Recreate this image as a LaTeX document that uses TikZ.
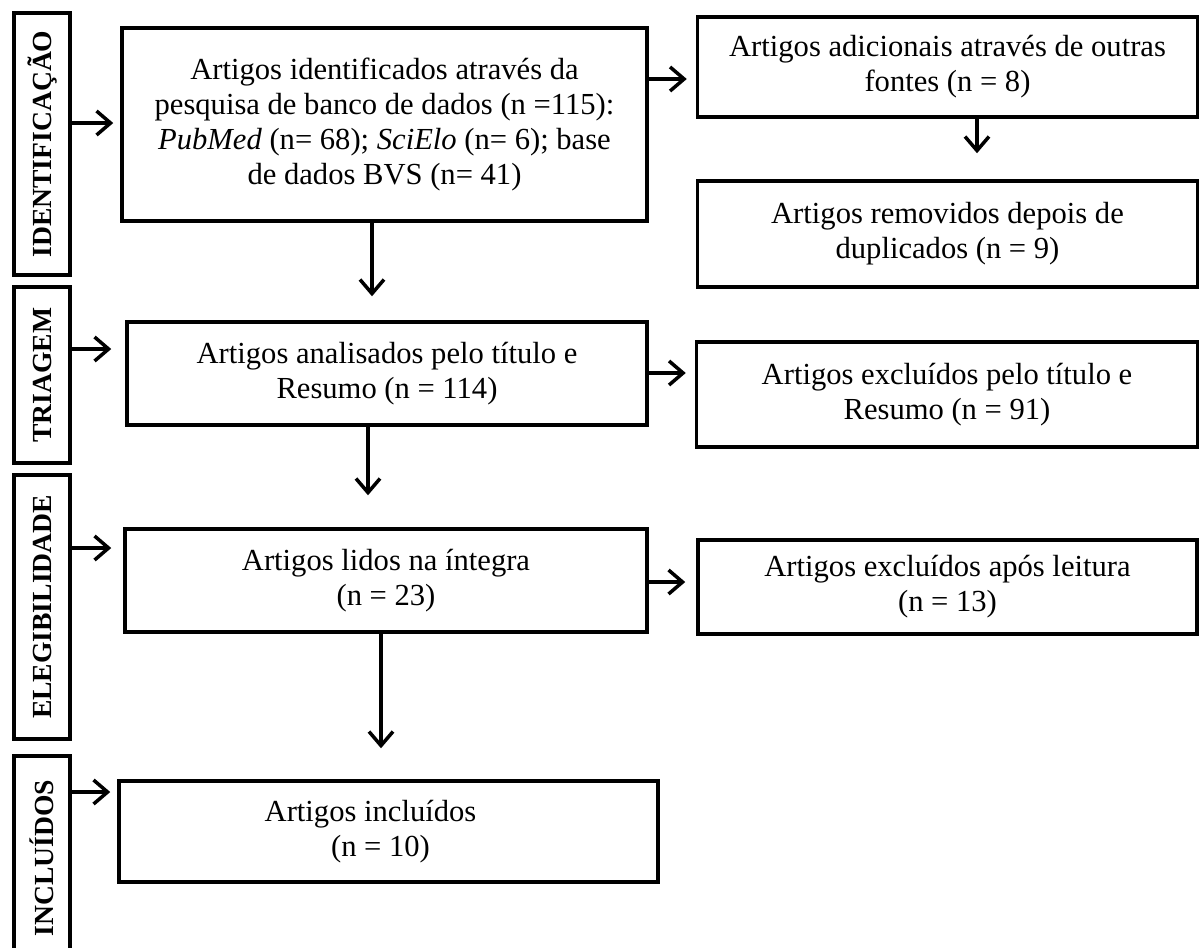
\documentclass[tikz,border=0pt]{standalone}
\usepackage{fontspec}
\setmainfont{Liberation Serif}
\usetikzlibrary{arrows.meta}
\begin{document}
\begin{tikzpicture}[x=0.5pt,y=-0.5pt,
  box/.style={draw, line width=1.75pt, align=center, inner sep=0pt,
    font=\fontsize{15.3}{17.5}\selectfont},
  lab/.style={draw, line width=1.75pt, inner sep=0pt, minimum width=28pt,
    font=\fontsize{13.8}{15}\selectfont\bfseries},
  arr/.style={line width=1.75pt, -{Straight Barb[length=7pt,width=12pt]}}]
\useasboundingbox (0,0) rectangle (1200,948);

% stage labels
\node[lab, minimum height=131pt] (lab1) at (42,144) {\rotatebox{90}{IDENTIFICAÇÃO}};
\node[lab, minimum height=88pt]  (lab2) at (42,375) {\rotatebox{90}{TRIAGEM}};
\node[lab, minimum height=132pt] (lab3) at (42,607) {\rotatebox{90}{ELEGIBILIDADE}};
\node[lab, minimum height=102pt] (lab4) at (42,858) {\rotatebox{90}{INCLUÍDOS}};

% main boxes
\node[box, minimum width=262.5pt, minimum height=96.5pt] (b1) at (384.5,124.5)
  {Artigos identificados através da\\ pesquisa de banco de dados (n =115):\\
   \textit{PubMed} (n= 68); \textit{SciElo} (n= 6); base\\ de dados BVS (n= 41)};
\node[box, minimum width=250pt, minimum height=50pt] (bA) at (947.5,67)
  {Artigos adicionais através de outras\\ fontes (n = 8)};
\node[box, minimum width=250pt, minimum height=53pt] (bB) at (947.5,234)
  {Artigos removidos depois de\\ duplicados (n = 9)};
\node[box, minimum width=260pt, minimum height=51.5pt] (b2) at (387,373.5)
  {Artigos analisados pelo título e\\ Resumo (n = 114)};
\node[box, minimum width=250.5pt, minimum height=52.5pt] (bX1) at (947,394.5)
  {Artigos excluídos pelo título e\\ Resumo (n = 91)};
\node[box, minimum width=261pt, minimum height=51.5pt] (b3) at (386,580.5)
  {Artigos lidos na íntegra\\ (n = 23)};
\node[box, minimum width=249.5pt, minimum height=47pt] (bX2) at (947.5,587)
  {Artigos excluídos após leitura\\ (n = 13)};
\node[box, minimum width=269.5pt, minimum height=50.5pt] (b4) at (388.5,831.5)
  {Artigos incluídos\hspace*{18pt}\\ (n = 10)\hspace*{8pt}};

% arrow guide coordinates
\coordinate (y1) at (0,123);
\coordinate (y2) at (0,349);
\coordinate (y3) at (0,548);
\coordinate (y4) at (0,792);
\coordinate (yA) at (0,79);
\coordinate (yX1) at (0,373);
\coordinate (yX2) at (0,582);
\coordinate (xB) at (977,0);
\coordinate (x12) at (372,0);
\coordinate (x23) at (368,0);
\coordinate (x34) at (381,0);

% connectors
\draw[arr, shorten >=3.5pt] (lab1.east |- y1) -- (b1.west |- y1);
\draw[arr, shorten >=7pt]   (lab2.east |- y2) -- (b2.west |- y2);
\draw[arr, shorten >=6pt]   (lab3.east |- y3) -- (b3.west |- y3);
\draw[arr, shorten >=3.5pt] (lab4.east |- y4) -- (b4.west |- y4);
\draw[arr, shorten >=4.5pt] (b1.east |- yA) -- (bA.west |- yA);
\draw[arr, shorten >=13pt]  (xB |- bA.south) -- (xB |- bB.north);
\draw[arr, shorten >=12pt]  (x12 |- b1.south) -- (x12 |- b2.north);
\draw[arr, shorten >=4.5pt] (b2.east |- yX1) -- (bX1.west |- yX1);
\draw[arr, shorten >=16pt]  (x23 |- b2.south) -- (x23 |- b3.north);
\draw[arr, shorten >=5.5pt] (b3.east |- yX2) -- (bX2.west |- yX2);
\draw[arr, shorten >=15.5pt] (x34 |- b3.south) -- (x34 |- b4.north);
\end{tikzpicture}
\end{document}
